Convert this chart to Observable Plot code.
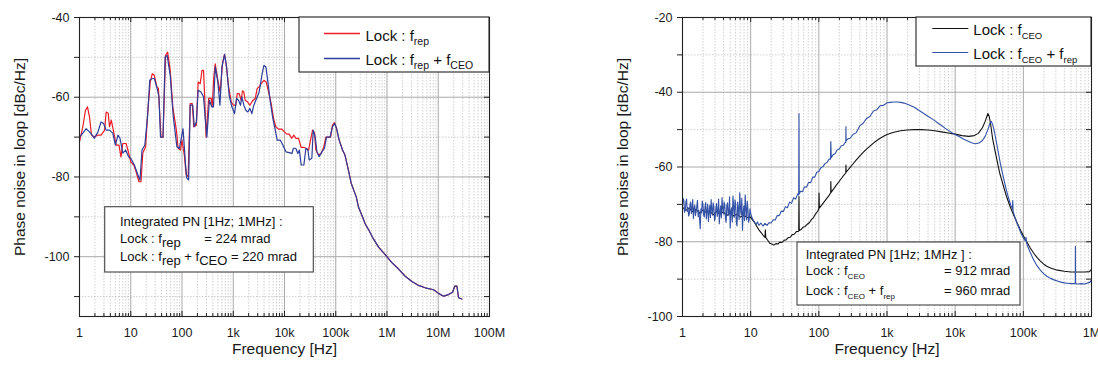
<!DOCTYPE html>
<html><head><meta charset="utf-8">
<script src="https://cdn.jsdelivr.net/npm/d3@7"></script>
<script src="https://cdn.jsdelivr.net/npm/@observablehq/plot@0.6"></script>
<style>
html,body{margin:0;padding:0;background:#fff;}
#chart{display:flex;width:1098px;height:366px;overflow:hidden;}
#chart svg{display:block;overflow:visible;max-width:none;}
</style></head><body><div id="chart"></div>
<script>
// ---------- LEFT PANEL DATA ([log10 f (Hz), dBc/Hz]) ----------
const leftFreqTicks = [1, 10, 100, 1e3, 1e4, 1e5, 1e6, 1e7, 1e8];
const leftFreqLabels = ["1", "10", "100", "1k", "10k", "100k", "1M", "10M", "100M"];
const leftDbTicks = [-40, -60, -80, -100];
const leftDbMinor = [-50, -70, -90, -110];

const repTrace = [ // Lock : f_rep (red)
[0,-71.2],[0.065,-67.4],[0.117,-63.25],[0.156,-62.4],[0.195,-64.9],[0.234,-69.5],[0.293,-70],[0.358,-69.5],[0.42,-69.5],[0.49,-68.25],[0.52,-63.7],[0.56,-64],[0.585,-67.4],[0.62,-65.75],[0.66,-68.25],[0.715,-72],[0.77,-72],[0.81,-75],[0.845,-71.6],[0.91,-71.6],[0.96,-74],[1.0,-76.2],[1.06,-77],[1.105,-78.7],[1.16,-81.2],[1.2,-81.2],[1.235,-74],[1.29,-72.4],[1.33,-64],[1.38,-56.2],[1.42,-54.1],[1.46,-54.5],[1.51,-57.4],[1.54,-57.8],[1.59,-70],[1.63,-70],[1.68,-49.5],[1.72,-48.7],[1.77,-53.25],[1.82,-62.4],[1.89,-68.25],[1.925,-72.8],[1.97,-73.25],[2.0,-70.75],[2.05,-75],[2.08,-79.5],[2.12,-79.9],[2.16,-61.6],[2.2,-61.6],[2.23,-67.4],[2.28,-67],[2.315,-56.2],[2.355,-56.6],[2.39,-53.25],[2.42,-53.25],[2.445,-60.75],[2.47,-70],[2.52,-60.3],[2.57,-60.3],[2.59,-62.4],[2.62,-55],[2.648,-51.6],[2.70,-55.75],[2.745,-58.7],[2.79,-51.6],[2.83,-49.25],[2.86,-51.6],[2.91,-57.4],[2.96,-61.2],[3.005,-62],[3.05,-62],[3.077,-59.1],[3.116,-59.1],[3.155,-60.75],[3.18,-58.4],[3.207,-58.7],[3.233,-60.75],[3.28,-61.2],[3.324,-62],[3.376,-60.9],[3.43,-60.3],[3.467,-57.8],[3.506,-57.4],[3.545,-56.6],[3.598,-55.75],[3.643,-56.2],[3.69,-58.7],[3.74,-61.6],[3.786,-65.3],[3.83,-67.4],[3.884,-68],[3.95,-68],[4.0,-68.7],[4.046,-69.25],[4.09,-69.25],[4.144,-70.3],[4.183,-69.5],[4.22,-70.3],[4.274,-70.3],[4.326,-72.6],[4.378,-72.6],[4.417,-72.8],[4.47,-73.25],[4.508,-70.75],[4.547,-68.25],[4.586,-69],[4.612,-73.25],[4.664,-74.5],[4.716,-74.1],[4.768,-72.4],[4.807,-70],[4.86,-70],[4.898,-70],[4.937,-67],[4.976,-66.4]
];
const repCeoTrace = [ // Lock : f_rep + f_CEO (blue)
[0,-70],[0.065,-69],[0.13,-67.9],[0.195,-68.7],[0.247,-69.5],[0.29,-70.3],[0.36,-68.7],[0.42,-66.2],[0.47,-66.6],[0.52,-68.25],[0.585,-68.25],[0.65,-69],[0.70,-72],[0.75,-69.5],[0.79,-70.3],[0.845,-74],[0.90,-73.25],[0.96,-75],[1.0,-75.3],[1.07,-77],[1.14,-79.5],[1.18,-80.75],[1.22,-73.25],[1.275,-72],[1.33,-64.5],[1.37,-55.75],[1.42,-55.3],[1.46,-55.3],[1.515,-57.8],[1.55,-59.9],[1.58,-70],[1.63,-70],[1.67,-49.9],[1.71,-49.5],[1.77,-54.5],[1.83,-64.9],[1.9,-72.4],[1.95,-72.8],[2.02,-67.9],[2.07,-77],[2.094,-80.3],[2.13,-80.75],[2.16,-62],[2.21,-62],[2.24,-67.4],[2.28,-66.2],[2.315,-58.25],[2.37,-58.7],[2.42,-59.9],[2.45,-64.9],[2.485,-70],[2.535,-60.75],[2.58,-62.4],[2.615,-62.4],[2.648,-52.4],[2.70,-56.2],[2.74,-62],[2.78,-52.4],[2.83,-49.25],[2.87,-52.4],[2.92,-59.5],[2.973,-62.4],[3.025,-64.1],[3.064,-60.3],[3.103,-60.75],[3.142,-62],[3.168,-59.9],[3.207,-62],[3.246,-63.25],[3.285,-63.7],[3.324,-62.8],[3.363,-64.1],[3.402,-62],[3.455,-60.3],[3.506,-58.7],[3.558,-54.5],[3.598,-52],[3.637,-52.4],[3.676,-56.2],[3.72,-60.75],[3.767,-64.9],[3.82,-68.25],[3.857,-70.75],[3.916,-70.75],[3.968,-72],[4.027,-73.7],[4.09,-73.9],[4.144,-74.1],[4.176,-72.8],[4.22,-72.8],[4.26,-74.1],[4.29,-73.25],[4.326,-77],[4.378,-77],[4.417,-72.8],[4.456,-73.25],[4.482,-75.75],[4.534,-75.3],[4.56,-68.25],[4.6,-70],[4.632,-73.7],[4.677,-74.9],[4.73,-73.7],[4.78,-72.8],[4.82,-70],[4.89,-70],[4.937,-67.4],[4.976,-66.6]
];
const sharedTail = [ // both locks above 100 kHz
[5.015,-67.8],[5.067,-70.75],[5.132,-73.25],[5.18,-74.5],[5.25,-78.5],[5.30,-81.5],[5.35,-83.3],[5.40,-85],[5.445,-87.6],[5.51,-89.6],[5.575,-91.8],[5.64,-93.2],[5.738,-95.6],[5.835,-97.6],[5.965,-99.5],[6.095,-101.5],[6.226,-103.1],[6.356,-104.9],[6.486,-106.2],[6.616,-107.2],[6.746,-107.8],[6.908,-108.3],[7.006,-109.2],[7.104,-109.9],[7.2,-109.5],[7.28,-108.9],[7.32,-107.4],[7.364,-107.4],[7.396,-110.3],[7.46,-110.6]
];

// ---------- RIGHT PANEL DATA ----------
const rightFreqTicks = [1, 10, 100, 1e3, 1e4, 1e5, 1e6];
const rightFreqLabels = ["1", "10", "100", "1k", "10k", "100k", "1M"];
const rightDbTicks = [-20, -40, -60, -80, -100];
const rightDbMinor = [-30, -50, -70, -90];

const ceoTrace = [ // Lock : f_CEO (black)
[0,-70.8],[0.05,-71.6],[0.10,-71.0],[0.15,-72.0],[0.20,-71.3],[0.25,-72.4],[0.30,-71.5],[0.35,-72.2],[0.40,-71.7],[0.45,-72.8],[0.50,-71.9],[0.55,-72.6],[0.60,-72.0],[0.65,-73.0],[0.70,-72.3],[0.75,-73.1],[0.80,-72.6],[0.85,-73.4],[0.90,-72.9],[0.95,-73.5],[1.00,-73.4],
[1.03,-74.2],[1.06,-75.0],[1.09,-75.9],[1.12,-76.8],[1.15,-77.5],[1.18,-78.2],[1.21,-78.8],[1.215,-76.8],[1.222,-78.9],[1.25,-79.6],[1.28,-80.4],[1.31,-80.6],[1.34,-80.9],[1.37,-80.5],[1.40,-80.6],[1.43,-80.1],[1.46,-80.2],[1.49,-79.6],[1.52,-79.5],[1.55,-78.9],[1.58,-78.8],[1.61,-78.1],[1.64,-78.0],[1.67,-77.3],[1.705,-77.2],[1.709,-67.9],[1.713,-77.0],[1.74,-76.7],[1.77,-76.1],[1.80,-75.9],[1.83,-75.3],[1.86,-74.9],[1.89,-74.1],[1.92,-73.6],[1.95,-72.6],[1.98,-71.9],[2.00,-71.2],[2.003,-67.0],[2.007,-71.0],[2.05,-70.0],[2.10,-68.8],[2.15,-67.6],[2.174,-66.9],[2.176,-63.9],[2.18,-66.8],[2.22,-65.8],[2.26,-64.8],[2.30,-63.8],[2.35,-62.6],[2.395,-61.6],[2.398,-59.5],[2.40,-61.4],[2.45,-60.3],[2.50,-59.2],[2.55,-58.1],[2.60,-57.1],[2.65,-56.1],[2.70,-55.2],[2.75,-54.4],[2.80,-53.6],[2.85,-52.9],[2.90,-52.3],[2.95,-51.8],[3.00,-51.3],[3.10,-50.7],[3.20,-50.3],[3.30,-50.1],[3.40,-50.0],[3.50,-50.0],[3.60,-50.1],[3.70,-50.3],[3.80,-50.6],[3.90,-50.9],[4.00,-51.2],[4.10,-51.6],[4.20,-51.8],[4.28,-51.6],[4.34,-51.0],[4.40,-49.5],[4.44,-47.8],[4.48,-45.7],[4.50,-46.5],[4.52,-48.5],[4.55,-52.5],[4.60,-57.0],[4.65,-61.4],[4.70,-64.6],[4.75,-67.7],[4.80,-70.3],[4.85,-72.5],[4.90,-74.6],[4.95,-76.6],[5.00,-78.4],[5.05,-80.0],[5.10,-81.6],[5.15,-83.0],[5.20,-84.2],[5.25,-85.2],[5.30,-86.0],[5.35,-86.6],[5.40,-87.0],[5.50,-87.6],[5.60,-87.9],[5.70,-88.1],[5.80,-88.1],[5.90,-88.1],[5.97,-88.0],[6.00,-87.4]
];
const ceoRepTrace = [ // Lock : f_CEO + f_rep (blue)
[0,-70.2],[0.01,-68.4],[0.02,-69.0],[0.03,-72.1],[0.04,-71.5],[0.05,-69.3],[0.06,-68.6],[0.07,-71.9],[0.08,-70.8],[0.09,-73.1],[0.10,-72.6],[0.11,-70.0],[0.12,-69.4],[0.13,-72.4],[0.14,-71.0],[0.15,-68.7],[0.16,-73.8],[0.17,-71.1],[0.18,-70.2],[0.19,-73.0],[0.20,-72.0],[0.21,-70.4],[0.22,-68.9],[0.23,-73.3],[0.24,-71.6],[0.25,-74.0],[0.26,-76.5],[0.27,-71.2],[0.28,-72.3],[0.29,-69.1],[0.30,-70.0],[0.31,-72.8],[0.32,-73.4],[0.33,-70.6],[0.34,-69.5],[0.35,-73.9],[0.36,-71.8],[0.37,-69.9],[0.38,-74.6],[0.39,-72.0],[0.40,-70.3],[0.41,-73.5],[0.42,-68.7],[0.43,-71.4],[0.44,-72.9],[0.45,-69.6],[0.46,-70.6],[0.47,-74.4],[0.48,-73.7],[0.49,-70.9],[0.50,-69.8],[0.51,-73.2],[0.52,-71.9],[0.53,-68.6],[0.54,-75.2],[0.55,-72.1],[0.56,-70.4],[0.57,-73.6],[0.58,-68.2],[0.59,-71.0],[0.60,-72.6],[0.61,-69.4],[0.62,-70.1],[0.63,-73.8],[0.64,-74.8],[0.65,-70.2],[0.66,-69.6],[0.67,-73.0],[0.68,-72.2],[0.69,-68.0],[0.70,-76.3],[0.71,-71.8],[0.72,-70.9],[0.73,-74.7],[0.74,-67.8],[0.75,-70.6],[0.76,-73.5],[0.77,-68.8],[0.78,-69.9],[0.79,-74.9],[0.80,-75.8],[0.81,-69.4],[0.82,-71.2],[0.83,-74.1],[0.84,-66.9],[0.85,-71.0],[0.86,-72.8],[0.87,-68.4],[0.88,-76.9],[0.89,-72.2],[0.90,-70.4],[0.91,-74.3],[0.92,-67.5],[0.93,-71.1],[0.94,-74.2],[0.95,-69.2],[0.96,-71.3],[0.97,-74.8],[0.98,-73.9],[0.99,-71.2],[1.00,-72.4],
[1.02,-73.6],[1.04,-74.3],[1.06,-74.8],[1.08,-75.4],[1.10,-74.7],[1.12,-75.6],[1.15,-75.0],[1.18,-75.8],[1.21,-75.1],[1.24,-75.6],[1.27,-74.9],[1.30,-75.0],[1.33,-74.1],[1.36,-74.2],[1.39,-73.0],[1.42,-73.0],[1.45,-71.8],[1.48,-71.9],[1.51,-70.6],[1.54,-70.9],[1.57,-69.4],[1.60,-69.7],[1.63,-68.2],[1.66,-68.6],[1.69,-67.2],[1.705,-67.5],[1.709,-45.7],[1.713,-67.2],[1.73,-66.5],[1.76,-66.6],[1.79,-65.3],[1.82,-65.4],[1.85,-64.1],[1.88,-64.2],[1.91,-62.7],[1.94,-62.7],[1.97,-61.4],[2.00,-61.2],[2.03,-60.2],[2.06,-59.9],[2.09,-59.1],[2.12,-58.8],[2.15,-57.9],[2.17,-57.9],[2.176,-53.2],[2.182,-57.5],[2.21,-56.7],[2.24,-56.4],[2.27,-55.4],[2.30,-55.2],[2.33,-54.3],[2.36,-54.2],[2.39,-53.3],[2.395,-53.4],[2.398,-49.2],[2.40,-53.0],[2.43,-52.4],[2.46,-52.3],[2.50,-51.3],[2.55,-50.8],[2.60,-49.0],[2.65,-48.3],[2.70,-47.0],[2.75,-46.5],[2.80,-45.0],[2.85,-44.7],[2.90,-43.6],[2.95,-43.5],[3.00,-42.8],[3.05,-42.7],[3.10,-42.6],[3.15,-42.6],[3.20,-42.7],[3.25,-42.9],[3.30,-43.2],[3.35,-43.6],[3.40,-44.0],[3.45,-44.6],[3.50,-45.2],[3.55,-45.8],[3.60,-46.4],[3.65,-47.0],[3.70,-47.6],[3.75,-48.3],[3.80,-48.9],[3.85,-49.6],[3.90,-50.2],[3.95,-50.8],[4.00,-51.3],[4.05,-51.8],[4.10,-52.3],[4.15,-52.8],[4.20,-53.2],[4.25,-53.6],[4.30,-53.8],[4.35,-53.6],[4.40,-52.9],[4.44,-51.8],[4.48,-50.0],[4.51,-48.3],[4.53,-47.8],[4.55,-48.6],[4.58,-50.9],[4.62,-54.8],[4.66,-58.8],[4.70,-62.2],[4.74,-65.4],[4.78,-68.1],[4.82,-70.4],[4.84,-71.2],[4.845,-69.0],[4.85,-71.8],[4.88,-73.7],[4.92,-75.6],[4.96,-77.5],[5.00,-79.0],[5.03,-79.8],[5.04,-78.8],[5.05,-80.6],[5.10,-82.8],[5.15,-84.8],[5.20,-86.4],[5.25,-87.6],[5.30,-88.6],[5.35,-89.3],[5.40,-89.8],[5.45,-90.2],[5.50,-90.5],[5.55,-90.8],[5.60,-91.0],[5.65,-91.1],[5.70,-91.2],[5.74,-91.2],[5.762,-91.2],[5.764,-81.2],[5.766,-91.2],[5.80,-91.3],[5.85,-91.2],[5.90,-91.3],[5.95,-91.0],[5.98,-90.8],[6.00,-90.2]
];

// ---------- helpers ----------
const FONT = "'Liberation Sans', Arial, Helvetica, sans-serif";
const toRows = (trace) => trace.map(([l, v]) => ({f: 10 ** l, db: v}));
const minorsOf = (decades) => decades.slice(0, -1).flatMap(d => [2,3,4,5,6,7,8,9].map(k => k * d));

function richText(g, x, y, parts, size, subSize, shift) {
  const t = g.append("text").attr("x", x).attr("y", y)
    .attr("font-size", size).attr("fill", "#111").attr("font-family", FONT)
    .attr("text-anchor", "start")
    .style("white-space", "pre");
  let inSub = false;
  for (const [s, sub] of parts) {
    const ts = t.append("tspan").text(s);
    if (sub) {
      ts.attr("font-size", subSize);
      if (!inSub) { ts.attr("dy", shift); inSub = true; }
    } else if (inSub) { ts.attr("dy", -shift); inSub = false; }
  }
  return t;
}

function panel(cfg) {
  const W = 549, H = 366;
  const fh = H - cfg.mt - cfg.mb, fw = W - cfg.ml - cfg.mr;
  const labelMap = new Map(cfg.xt.map((d, i) => [d, cfg.xl[i]]));
  const xMinor = minorsOf(cfg.xt);
  const yAll = [...cfg.yt, ...cfg.ym];
  const svg = Plot.plot({
    width: W, height: H,
    marginLeft: cfg.ml, marginRight: cfg.mr, marginTop: cfg.mt, marginBottom: cfg.mb,
    style: {fontFamily: FONT, fontSize: "12.5px", color: "#1a1a1a", background: "#fff"},
    x: {type: "log", domain: cfg.xd},
    y: {domain: cfg.yd},
    marks: [
      Plot.ruleX(xMinor, {stroke: "#c4c4c4", strokeWidth: 0.8, strokeDasharray: "1.5,1.5"}),
      Plot.ruleY(cfg.ym, {stroke: "#c4c4c4", strokeWidth: 0.8, strokeDasharray: "1.5,1.5"}),
      Plot.ruleX(cfg.xt, {stroke: "#a9a9a9", strokeWidth: 1}),
      Plot.ruleY(cfg.yt, {stroke: "#a9a9a9", strokeWidth: 1}),
      ...cfg.series.map(s => Plot.line(s.rows, {x: "f", y: "db", stroke: s.color, strokeWidth: s.w})),
      // inward ticks top & bottom
      Plot.ruleX(cfg.xt, {stroke: "#222", insetTop: fh - 5}),
      Plot.ruleX(cfg.xt, {stroke: "#222", insetBottom: fh - 5}),
      Plot.ruleX(xMinor, {stroke: "#222", insetTop: fh - 3}),
      Plot.ruleX(xMinor, {stroke: "#222", insetBottom: fh - 3}),
      // y ticks: outward left, inward right
      Plot.ruleY(yAll, {stroke: "#222", insetLeft: -5, insetRight: fw}),
      Plot.ruleY(yAll, {stroke: "#222", insetLeft: fw - 5}),
      Plot.frame({stroke: "#222", strokeWidth: 1.1}),
      Plot.axisX(cfg.xt, {anchor: "bottom", tickSize: 0, tickPadding: 12, fontSize: 12.5,
        tickFormat: d => labelMap.get(d), label: null}),
      Plot.axisY(cfg.yt, {anchor: "left", tickSize: 0, tickPadding: 10, fontSize: 12.5,
        tickFormat: d => String(d), label: null}),
      Plot.text(["Frequency [Hz]"], {frameAnchor: "bottom", dy: 37, fontSize: 15.5, fill: "#1a1a1a"}),
      Plot.text(["Phase noise in loop [dBc/Hz]"], {frameAnchor: "left", textAnchor: "middle", rotate: -90, dx: -59, dy: -10, fontSize: 15.5, fill: "#1a1a1a"})
    ]
  });
  return svg;
}

const root = document.getElementById("chart");

// LEFT
const left = panel({
  ml: 79, mr: 60, mt: 17, mb: 50,
  xd: [1, 1e8], yd: [-115, -40],
  xt: leftFreqTicks, xl: leftFreqLabels, yt: leftDbTicks, ym: leftDbMinor,
  series: [
    {rows: toRows([...repTrace, ...sharedTail]), color: "#ec1c24", w: 1.2},
    {rows: toRows([...repCeoTrace, ...sharedTail]), color: "#2d3e9c", w: 1.2}
  ]
});
root.appendChild(left);
{
  const g = d3.select(left).append("g");
  g.append("rect").attr("x", 299).attr("y", 17).attr("width", 190).attr("height", 55)
    .attr("fill", "#fff").attr("stroke", "#222").attr("stroke-width", 1.1);
  g.append("line").attr("x1", 324).attr("x2", 360).attr("y1", 33.5).attr("y2", 33.5).attr("stroke", "#ec1c24").attr("stroke-width", 1.3);
  g.append("line").attr("x1", 324).attr("x2", 360).attr("y1", 58.5).attr("y2", 58.5).attr("stroke", "#2d3e9c").attr("stroke-width", 1.3);
  richText(g, 365.5, 40.5, [["Lock : f"], ["rep", true]], 15, 10.5, 4);
  richText(g, 365.5, 64.5, [["Lock : f"], ["rep", true], [" + f"], ["CEO", true]], 15, 10.5, 4);

  g.append("rect").attr("x", 104.7).attr("y", 206.7).attr("width", 208.6).attr("height", 65.3)
    .attr("fill", "#fff").attr("stroke", "#444").attr("stroke-width", 1.1);
  richText(g, 120, 225.5, [["Integrated PN [1Hz; 1MHz] :"]], 13, 13, 0);
  richText(g, 120, 242.5, [["Lock : f"], ["rep", true]], 13, 13, 4);
  richText(g, 204.3, 242.5, [["= 224 mrad"]], 13, 13, 0);
  richText(g, 120, 261, [["Lock : f"], ["rep", true], [" + f"], ["CEO", true], [" = 220 mrad"]], 13, 13, 4);
}

// RIGHT
const right = panel({
  ml: 133, mr: 7, mt: 17, mb: 50,
  xd: [1, 1e6], yd: [-100, -20],
  xt: rightFreqTicks, xl: rightFreqLabels, yt: rightDbTicks, ym: rightDbMinor,
  series: [
    {rows: toRows(ceoTrace), color: "#111", w: 1.1},
    {rows: toRows(ceoRepTrace), color: "#3352a8", w: 1.1}
  ]
});
root.appendChild(right);
{
  const g = d3.select(right).append("g");
  g.append("rect").attr("x", 367).attr("y", 17).attr("width", 175).attr("height", 49)
    .attr("fill", "#fff").attr("stroke", "#222").attr("stroke-width", 1.1);
  g.append("line").attr("x1", 383.3).attr("x2", 419.3).attr("y1", 28.5).attr("y2", 28.5).attr("stroke", "#111").attr("stroke-width", 1.2);
  g.append("line").attr("x1", 383.3).attr("x2", 419.3).attr("y1", 52.5).attr("y2", 52.5).attr("stroke", "#3352a8").attr("stroke-width", 1.2);
  richText(g, 424.3, 34.5, [["Lock : f"], ["CEO", true]], 15, 9.5, 4);
  richText(g, 424.3, 58.5, [["Lock : f"], ["CEO", true], [" + f"], ["rep", true]], 15, 9.5, 4);

  g.append("rect").attr("x", 248).attr("y", 242).attr("width", 223).attr("height", 63)
    .attr("fill", "#fff").attr("stroke", "#444").attr("stroke-width", 1.1);
  richText(g, 256.7, 259, [["Integrated PN [1Hz; 1MHz ] :"]], 13, 13, 0);
  richText(g, 256.7, 275, [["Lock : f"], ["CEO", true]], 13, 8, 4);
  richText(g, 395, 275, [["= 912 mrad"]], 13, 13, 0);
  richText(g, 256.7, 295, [["Lock : f"], ["CEO", true], [" + f"], ["rep", true]], 13, 8, 4);
  richText(g, 395, 295, [["= 960 mrad"]], 13, 13, 0);
}
</script></body></html>
